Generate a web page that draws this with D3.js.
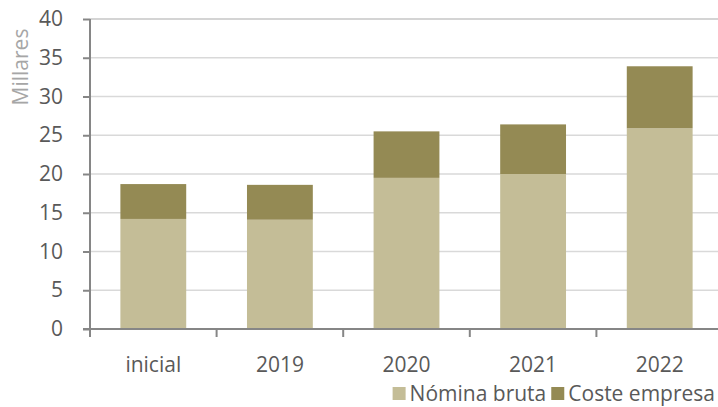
<!DOCTYPE html>
<html>
<head>
<meta charset="utf-8">
<script src="https://cdn.jsdelivr.net/npm/d3@7"></script>
<style>
  body { margin: 0; background: #fff; }
  svg { display: block; font-family: "Open Sans", "Noto Sans", sans-serif; }
</style>
</head>
<body>
<svg id="chart"></svg>
<script>
// Data (thousands)
const categories = ["inicial", "2019", "2020", "2021", "2022"];
const nominaBruta = [14.2, 14.1, 19.5, 20.0, 25.9];
const costeEmpresa = [4.5, 4.5, 6.0, 6.4, 8.0];   // stacked on top of nómina
const yTicks = [0, 5, 10, 15, 20, 25, 30, 35, 40];
const seriesNames = ["Nómina bruta", "Coste empresa"];
const seriesColors = ["#c4bd97", "#948a54"];

const width = 718, height = 407;
const plotLeft = 90, plotRight = 723, plotTop = 19, plotBottom = 329;
const fontSize = 21;

const svg = d3.select("#chart").attr("width", width).attr("height", height);

const x = d3.scaleBand().domain(categories).range([plotLeft, plotRight]).paddingInner(0.48).paddingOuter(0.24);
const xEdge = d3.scaleBand().domain(categories).range([plotLeft, plotRight]);
const y = d3.scaleLinear().domain([0, 40]).range([plotBottom, plotTop]);

// gridlines
svg.append("g")
  .selectAll("line")
  .data(yTicks.filter(d => d > 0))
  .join("line")
  .attr("x1", plotLeft).attr("x2", plotRight)
  .attr("y1", d => y(d)).attr("y2", d => y(d))
  .attr("stroke", d => d === 40 ? "#c6c6c6" : "#d9d9d9").attr("stroke-width", 1.5);

// stacked bars
const rows = categories.map((c, i) => ({ cat: c, nomina: nominaBruta[i], coste: costeEmpresa[i] }));
const stack = d3.stack().keys(["nomina", "coste"])(rows);

svg.append("g")
  .selectAll("g")
  .data(stack)
  .join("g")
  .attr("fill", (d, i) => seriesColors[i])
  .selectAll("rect")
  .data(d => d)
  .join("rect")
  .attr("x", d => x(d.data.cat))
  .attr("width", x.bandwidth())
  .attr("y", d => y(d[1]))
  .attr("height", d => y(d[0]) - y(d[1]));

// y axis
const yAxis = svg.append("g")
  .attr("transform", `translate(${plotLeft},0)`)
  .call(d3.axisLeft(y).tickValues(yTicks).tickSize(7).tickPadding(20).tickSizeOuter(0));
yAxis.select(".domain").attr("stroke", "#868686").attr("stroke-width", 2)
  .attr("d", `M0,${plotTop}V${plotBottom + 8}`);
yAxis.selectAll(".tick line").attr("stroke", "#868686").attr("stroke-width", 2);
yAxis.selectAll(".tick text").attr("fill", "#595959").attr("font-size", fontSize)
  .attr("font-family", "\"Open Sans\", sans-serif");

// x axis
const xAxis = svg.append("g").attr("transform", `translate(0,${plotBottom})`);
xAxis.append("line").attr("x1", plotLeft - 7).attr("x2", plotRight)
  .attr("stroke", "#868686").attr("stroke-width", 2);
xAxis.selectAll(".xt")
  .data(categories.slice(1))
  .join("line")
  .attr("class", "xt")
  .attr("x1", d => xEdge(d)).attr("x2", d => xEdge(d))
  .attr("y1", 0).attr("y2", 8)
  .attr("stroke", "#868686").attr("stroke-width", 2);
xAxis.selectAll(".xl")
  .data(categories)
  .join("text")
  .attr("class", "xl")
  .attr("x", d => xEdge(d) + xEdge.bandwidth() / 2)
  .attr("y", 43)
  .attr("text-anchor", "middle")
  .attr("fill", "#595959")
  .attr("font-size", fontSize)
  .text(d => d);

// y axis title
svg.append("text")
  .attr("transform", "translate(28,67) rotate(-90)")
  .attr("text-anchor", "middle")
  .attr("fill", "#a6a6a6")
  .attr("font-size", fontSize)
  .text("Millares");

// legend, right-aligned at the bottom
const legend = svg.append("g");
const items = legend.selectAll("g").data(seriesNames).join("g");
items.append("rect").attr("width", 13).attr("height", 13).attr("y", -14)
  .attr("fill", (d, i) => seriesColors[i]);
items.append("text").attr("x", 17).attr("y", 0)
  .attr("fill", "#595959").attr("font-size", fontSize)
  .text(d => d);
let cursor = 715;
const widths = [];
items.each(function () { widths.push(17 + this.querySelector("text").getComputedTextLength()); });
for (let i = seriesNames.length - 1; i >= 0; i--) {
  cursor -= widths[i];
  widths[i] = cursor;
  cursor -= 5;
}
items.attr("transform", (d, i) => `translate(${widths[i]},401)`);
</script>
</body>
</html>
